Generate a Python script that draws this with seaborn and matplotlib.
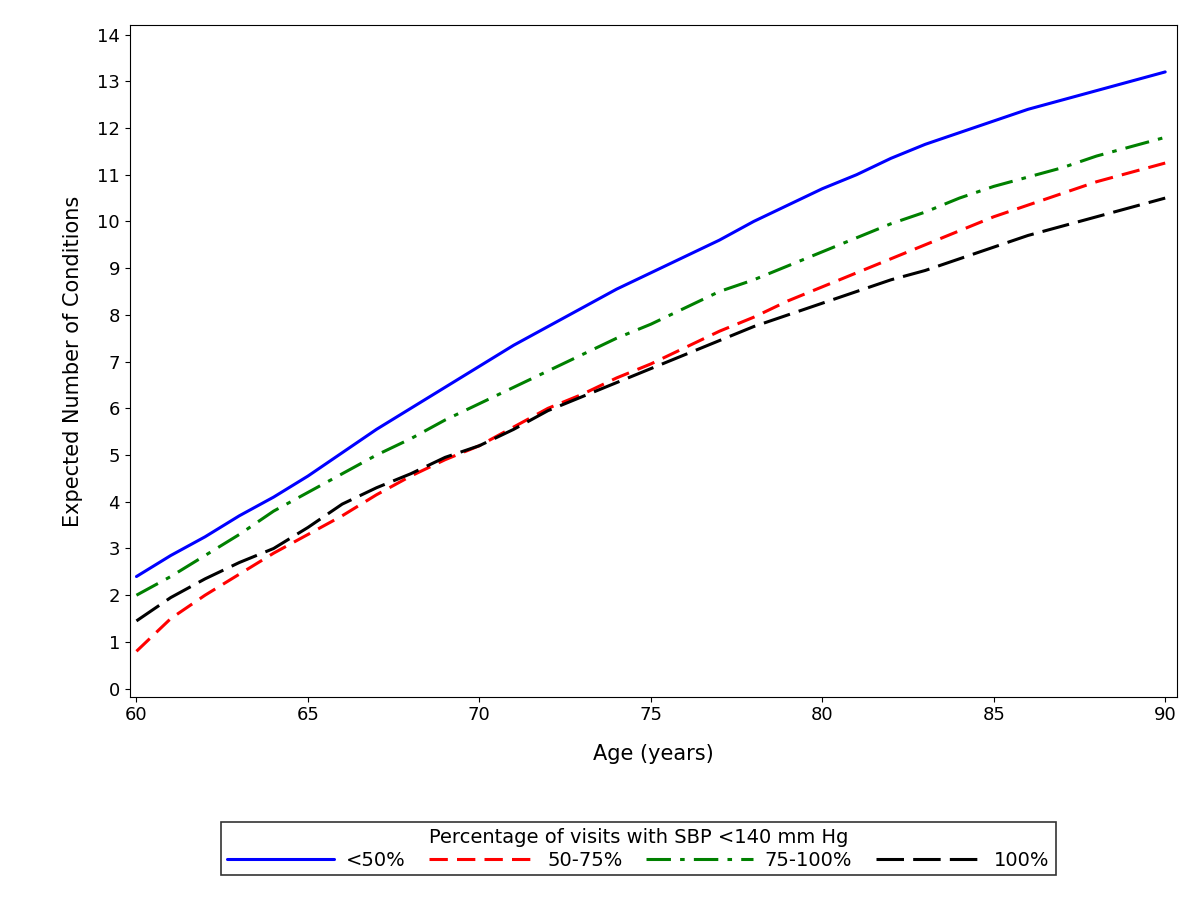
import numpy as np
import pandas as pd
import matplotlib
matplotlib.use('Agg')
import matplotlib.pyplot as plt
import seaborn as sns

age = list(range(60, 91))
lt50 = [2.4, 2.85, 3.25, 3.7, 4.1, 4.55, 5.05, 5.55, 6.0, 6.45, 6.9, 7.35, 7.75, 8.15, 8.55, 8.9,
        9.25, 9.6, 10.0, 10.35, 10.7, 11.0, 11.35, 11.65, 11.9, 12.15, 12.4, 12.6, 12.8, 13.0, 13.2]
p50_75 = [0.8, 1.5, 2.0, 2.45, 2.9, 3.3, 3.7, 4.15, 4.55, 4.9, 5.2, 5.6, 6.0, 6.3, 6.65, 6.95,
          7.3, 7.65, 7.95, 8.3, 8.6, 8.9, 9.2, 9.5, 9.8, 10.1, 10.35, 10.6, 10.85, 11.05, 11.25]
p75_100 = [2.0, 2.4, 2.85, 3.3, 3.8, 4.2, 4.6, 5.0, 5.35, 5.75, 6.1, 6.45, 6.8, 7.15, 7.5, 7.8,
           8.15, 8.5, 8.75, 9.05, 9.35, 9.65, 9.95, 10.2, 10.5, 10.75, 10.95, 11.15, 11.4, 11.6, 11.8]
p100 = [1.45, 1.95, 2.35, 2.7, 3.0, 3.45, 3.95, 4.3, 4.6, 4.95, 5.2, 5.55, 5.95, 6.25, 6.55, 6.85,
        7.15, 7.45, 7.75, 8.0, 8.25, 8.5, 8.75, 8.95, 9.2, 9.45, 9.7, 9.9, 10.1, 10.3, 10.5]

groups = ['<50%', '50-75%', '75-100%', '100%']
colors = ['#0000ff', '#ff0000', '#008000', '#000000']
dashes = [(None, None), (6, 3), (8, 3, 1.5, 3), (9, 3)]

df = pd.DataFrame({'age': age * 4,
                   'value': lt50 + p50_75 + p75_100 + p100,
                   'group': np.repeat(groups, len(age))})

sns.set_style('ticks')
plt.rcParams['font.family'] = ['DejaVu Sans']
plt.rcParams['text.color'] = 'black'
fig = plt.figure(figsize=(12, 9), dpi=100)
ax = fig.add_axes([0.108, 0.226, 0.873, 0.746])

for g, c, d in zip(groups, colors, dashes):
    sub = df[df['group'] == g]
    sns.lineplot(data=sub, x='age', y='value', color=c, lw=2.2, ax=ax, label=g)
    if d[0] is not None:
        ax.lines[-1].set_dashes(d)

ax.set_xlim(59.8, 90.35)
ax.set_ylim(-0.17, 14.2)
ax.set_xticks(range(60, 91, 5))
ax.set_yticks(range(0, 15))
ax.tick_params(labelsize=13, colors='black')
ax.set_xlabel('Age (years)', fontsize=15, labelpad=14, color='black')
ax.set_ylabel('Expected Number of Conditions', fontsize=15, labelpad=10, color='black')
for s in ax.spines.values():
    s.set_visible(True)
    s.set_color('black')

h, l = ax.get_legend_handles_labels()
ax.get_legend().remove()
leg = fig.legend(h, l, loc='center', bbox_to_anchor=(0.532, 0.057), ncol=4,
                 title='Percentage of visits with SBP <140 mm Hg', fontsize=14,
                 title_fontsize=14, frameon=True, fancybox=False, edgecolor='black',
                 handlelength=5.5, handletextpad=0.6, columnspacing=1.2,
                 borderpad=0.3, labelspacing=0.2)
leg.get_frame().set_linewidth(1.2)

fig.savefig('out.png', dpi=100)
